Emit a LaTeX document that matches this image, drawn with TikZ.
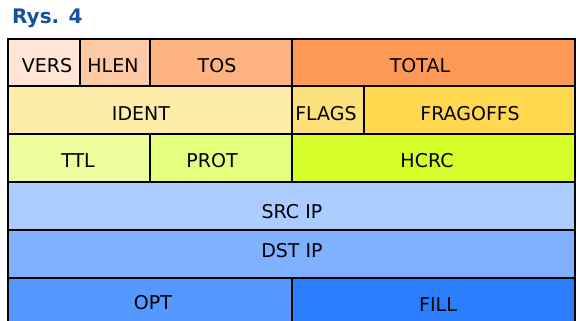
\documentclass[tikz,border=0pt]{standalone}
\usepackage{fontspec}
\setmainfont{DejaVu Sans}
\definecolor{rysblue}{HTML}{1650A0}
\definecolor{cVers}{HTML}{FEE5D6}
\definecolor{cHlen}{HTML}{FDCAA6}
\definecolor{cTos}{HTML}{FDB282}
\definecolor{cTotal}{HTML}{FE9955}
\definecolor{cIdent}{HTML}{FEEDA8}
\definecolor{cFlags}{HTML}{FEE07B}
\definecolor{cFrag}{HTML}{FFD84F}
\definecolor{cTtl}{HTML}{EEFDA0}
\definecolor{cProt}{HTML}{E4FE80}
\definecolor{cHcrc}{HTML}{D5FE2B}
\definecolor{cSrc}{HTML}{AACCFE}
\definecolor{cDst}{HTML}{80B1FE}
\definecolor{cOpt}{HTML}{5599FE}
\definecolor{cFill}{HTML}{2B7FFE}

\begin{document}
\begin{tikzpicture}[
  x=1pt,y=-1pt,
  cell/.style={draw=black, line width=2.2pt},
  lbl/.style={font=\fontsize{19}{22}\selectfont, inner sep=0pt},
  rys/.style={font=\fontsize{20}{24}\selectfont\bfseries, text=rysblue, inner sep=0pt}
]
\useasboundingbox (0,0) rectangle (576,321);
\clip (0,0) rectangle (576,321);
\node[rys, anchor=base west] (title) at (12,23.5) {Rys. 4};
% row 1
\filldraw[cell, fill=cVers] (8,39) rectangle (80,86);
\filldraw[cell, fill=cHlen] (80,39) rectangle (150,86);
\filldraw[cell, fill=cTos] (150,39) rectangle (292,86);
\filldraw[cell, fill=cTotal] (292,39) rectangle (575,86);
% row 2
\filldraw[cell, fill=cIdent] (8,86) rectangle (292,134);
\filldraw[cell, fill=cFlags] (292,86) rectangle (364,134);
\filldraw[cell, fill=cFrag] (364,86) rectangle (575,134);
% row 3
\filldraw[cell, fill=cTtl] (8,134) rectangle (150,182);
\filldraw[cell, fill=cProt] (150,134) rectangle (292,182);
\filldraw[cell, fill=cHcrc] (292,134) rectangle (575,182);
% rows 4-6
\filldraw[cell, fill=cSrc] (8,182) rectangle (575,230);
\filldraw[cell, fill=cDst] (8,230) rectangle (575,278);
\filldraw[cell, fill=cOpt] (8,278) rectangle (292,330);
\filldraw[cell, fill=cFill] (292,278) rectangle (575,330);
\node[lbl] (vers) at (47,66) {VERS};
\node[lbl] (hlen) at (113,66) {HLEN};
\node[lbl] (tos) at (217,66) {TOS};
\node[lbl] (total) at (420,66) {TOTAL};
\node[lbl] (ident) at (141,114) {IDENT};
\node[lbl] (flags) at (326,114) {FLAGS};
\node[lbl] (fragoffs) at (470,114) {FRAGOFFS};
\node[lbl] (ttl) at (78,161) {TTL};
\node[lbl] (prot) at (212,161) {PROT};
\node[lbl] (hcrc) at (427,161) {HCRC};
\node[lbl] (srcip) at (292,212) {SRC IP};
\node[lbl] (dstip) at (292,251) {DST IP};
\node[lbl] (opt) at (153,303) {OPT};
\node[lbl] (fill) at (438,305) {FILL};
\end{tikzpicture}
\end{document}
